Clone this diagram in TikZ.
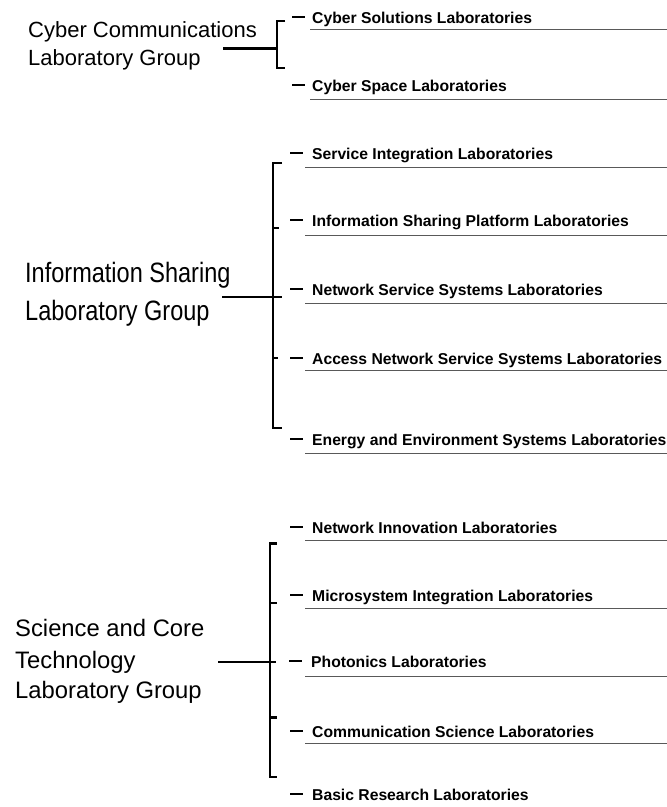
\documentclass[tikz,border=0pt]{standalone}
\usepackage{fontspec}
\setmainfont{Liberation Sans}
\newfontfamily\narrowfont[FakeStretch=0.84]{Liberation Sans}

\tikzset{
  lab/.style={anchor=base west, inner sep=0pt, font=\fontsize{15.7}{18}\selectfont\bfseries},
  grpA/.style={anchor=base west, inner sep=0pt, font=\fontsize{22}{28}\selectfont},
  grpB/.style={anchor=base west, inner sep=0pt, font=\narrowfont\fontsize{28}{38}\selectfont},
  grpC/.style={anchor=base west, inner sep=0pt, font=\fontsize{23.8}{31}\selectfont},
  brk/.style={line width=2.2pt, line cap=butt, line join=miter},
  conn/.style={line width=2pt},
  tick/.style={line width=1.2pt},
  dashln/.style={line width=1.3pt},
  uline/.style={line width=0.8pt, gray!70!black},
}

\begin{document}
\begin{tikzpicture}[x=1pt, y=-1pt]
\useasboundingbox (0,0) rectangle (667,807);

% ---------------- Cyber Communications Laboratory Group
\node[grpA] (g1a) at (28,37) {Cyber Communications};
\node[grpA] (g1b) at (28,65) {Laboratory Group};
\coordinate (g1src) at (223,48);
\coordinate (g1bar) at (277,48);
\draw[brk] (285,21) -- (277,21) -- (277,68) -- (285,68);
\draw[conn, line width=3pt] (g1src) -- (g1bar);

\node[lab] (a1) at (312,23) {Cyber Solutions Laboratories};
\node[lab] (a2) at (312,91) {Cyber Space Laboratories};
\foreach \n in {a1,a2}
  \draw[dashln, line width=1.8pt] ([xshift=-20pt,yshift=6pt]\n.base west) -- ([xshift=-7pt,yshift=6pt]\n.base west);
\draw[uline] (310,29) -- (667,29);
\draw[uline] (310,99) -- (667,99);

% ---------------- Information Sharing Laboratory Group
\node[grpB] (g2a) at (25,282) {Information Sharing};
\node[grpB] (g2b) at (25,320) {Laboratory Group};
\coordinate (g2src) at (222,297);
\coordinate (g2bar) at (273,297);
\draw[brk] (282,163) -- (273,163) -- (273,428) -- (282,428);
\draw[conn] (g2src) -- (g2bar) -- (282,297);
\draw[tick] (273,228) -- (279,228);
\draw[tick] (273,358) -- (278,358);

\node[lab] (b1) at (312,159) {Service Integration Laboratories};
\node[lab] (b2) at (312,226) {Information Sharing Platform Laboratories};
\node[lab] (b3) at (312,295) {Network Service Systems Laboratories};
\node[lab] (b4) at (312,364) {Access Network Service Systems Laboratories};
\node[lab] (b5) at (312,445) {Energy and Environment Systems Laboratories};
\foreach \n in {b1,b2,b3,b4,b5}
  \draw[dashln] ([xshift=-22pt,yshift=6pt]\n.base west) -- ([xshift=-9pt,yshift=6pt]\n.base west);
\foreach \y in {167,235,303,370,453}
  \draw[uline] (305,\y) -- (667,\y);

% ---------------- Science and Core Technology Laboratory Group
\node[grpC] (g3a) at (15,636) {Science and Core};
\node[grpC] (g3b) at (15,668) {Technology};
\node[grpC] (g3c) at (15,698) {Laboratory Group};
\coordinate (g3src) at (218,662);
\coordinate (g3bar) at (270,662);
\draw[brk] (277,543) -- (270,543) -- (270,777) -- (277,777);
\draw[line width=3pt] (270,543) -- (277,543);
\draw[conn, line width=1.6pt] (g3src) -- (g3bar) -- (276,662);
\draw[tick] (270,603) -- (277,603);
\draw[line width=3pt] (270,717) -- (277,717);

\node[lab] (c1) at (312,533) {Network Innovation Laboratories};
\node[lab] (c2) at (312,601) {Microsystem Integration Laboratories};
\node[lab] (c3) at (311,667) {Photonics Laboratories};
\node[lab] (c4) at (312,737) {Communication Science Laboratories};
\node[lab] (c5) at (312,800) {Basic Research Laboratories};
\foreach \n in {c1,c2,c3,c4,c5}
  \draw[dashln] ([xshift=-22pt,yshift=6pt]\n.base west) -- ([xshift=-9pt,yshift=6pt]\n.base west);
\foreach \y in {540,608,676,743}
  \draw[uline] (305,\y) -- (667,\y);
\end{tikzpicture}
\end{document}
